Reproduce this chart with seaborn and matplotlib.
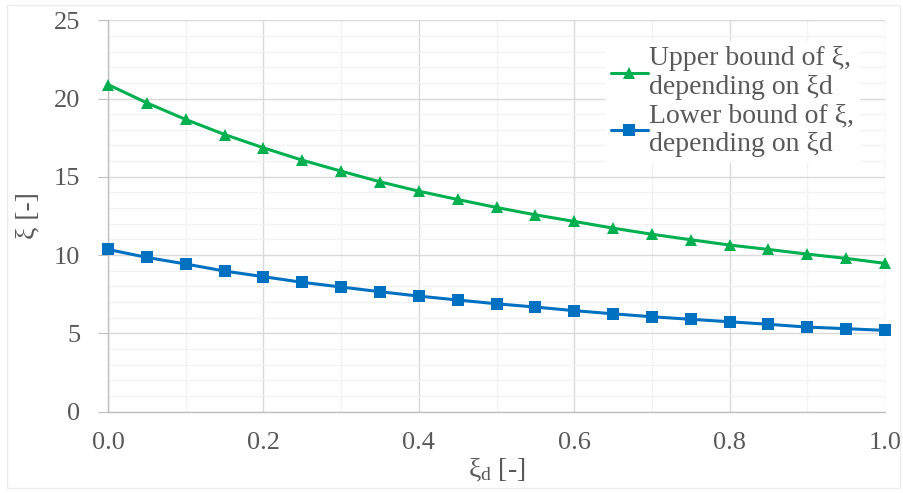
import matplotlib
matplotlib.use("Agg")
import matplotlib.pyplot as plt
from matplotlib.ticker import MultipleLocator
from matplotlib.patches import Rectangle
import seaborn as sns
import pandas as pd

# xi_d values and the two bounds
xi_d = [0.0, 0.05, 0.1, 0.15, 0.2, 0.25, 0.3, 0.35, 0.4, 0.45, 0.5,
        0.55, 0.6, 0.65, 0.7, 0.75, 0.8, 0.85, 0.9, 0.95, 1.0]
upper = [20.89, 19.72, 18.66, 17.70, 16.85, 16.06, 15.36, 14.68, 14.08, 13.55, 13.04,
         12.57, 12.15, 11.72, 11.33, 10.98, 10.64, 10.36, 10.06, 9.79, 9.47]
lower = [10.36, 9.85, 9.43, 8.98, 8.62, 8.26, 7.96, 7.66, 7.38, 7.13, 6.89,
         6.68, 6.45, 6.25, 6.06, 5.90, 5.74, 5.58, 5.40, 5.30, 5.19]
label_up = "Upper bound of ξ,\ndepending on ξd"
label_lo = "Lower bound of ξ,\ndepending on ξd"

df = pd.concat([
    pd.DataFrame({"x": xi_d, "y": upper, "s": label_up}),
    pd.DataFrame({"x": xi_d, "y": lower, "s": label_lo}),
])

sns.set_style("white")
serif = ["Liberation Serif", "DejaVu Serif"]
plt.rcParams["font.family"] = serif
plt.rcParams["mathtext.fontset"] = "custom"
plt.rcParams["mathtext.rm"] = "Liberation Serif"
plt.rcParams["mathtext.it"] = "Liberation Serif:italic"
grey = "#595959"

fig = plt.figure(figsize=(9.04, 4.93), dpi=100)
ax = fig.add_axes([0.1195, 0.165, 0.979 - 0.1195, 0.959 - 0.165])

sns.lineplot(data=df, x="x", y="y", hue="s", style="s",
             palette={label_up: "#00B050", label_lo: "#0070C0"},
             markers={label_up: "^", label_lo: "s"},
             dashes=False, markersize=8, markeredgewidth=0,
             linewidth=2.2, ax=ax, zorder=5, clip_on=False)

ax.set_xlim(0, 1)
ax.set_ylim(0, 25)
ax.xaxis.set_major_locator(MultipleLocator(0.2))
ax.xaxis.set_minor_locator(MultipleLocator(0.1))
ax.yaxis.set_major_locator(MultipleLocator(5))
ax.yaxis.set_minor_locator(MultipleLocator(1))
ax.set_xticks(ax.get_xticks())
ax.set_xticklabels([f"{v:.1f}" for v in ax.get_xticks()])
ax.set_xlim(0, 1)
ax.grid(True, which="major", color="#D9D9D9", lw=1)
ax.grid(True, which="minor", color="#F2F2F2", lw=1)
ax.set_axisbelow(True)

for s in ["top", "right"]:
    ax.spines[s].set_visible(False)
for s in ["left", "bottom"]:
    ax.spines[s].set_color("#BFBFBF")
    ax.spines[s].set_linewidth(1)

ax.tick_params(axis="y", which="major", length=7, color="#BFBFBF", labelsize=19,
               labelcolor=grey, pad=13, left=True)
ax.tick_params(axis="y", which="minor", length=0)
ax.tick_params(axis="x", which="both", length=0, labelsize=19, labelcolor=grey, pad=15)
for t in ax.get_xticklabels() + ax.get_yticklabels():
    t.set_fontfamily(serif)

ax.set_xlabel(r"ξ$_{\rm d}$ [-]", fontsize=20, color=grey, labelpad=2, fontfamily=serif)
ax.set_ylabel("ξ [-]", fontsize=20, color=grey, labelpad=10, fontfamily=serif)

handles, labels = ax.get_legend_handles_labels()
leg = ax.legend(handles, labels, loc="upper left",
                bbox_to_anchor=(592 / 904, 1 - 27 / 493), bbox_transform=fig.transFigure,
                prop={"family": serif, "size": 20}, frameon=True, fancybox=False,
                framealpha=1, edgecolor="white", handlelength=1.3, handletextpad=0.05,
                labelspacing=0.1, borderpad=0.2, labelcolor=grey)
for t in leg.get_texts():
    t.set_linespacing(1.2)

fig.patches.append(Rectangle((7 / 904, 5 / 493), 893 / 904, 483 / 493,
                             transform=fig.transFigure, fill=False,
                             edgecolor="#EDEDED", lw=1))

fig.savefig("out.png", dpi=100)
